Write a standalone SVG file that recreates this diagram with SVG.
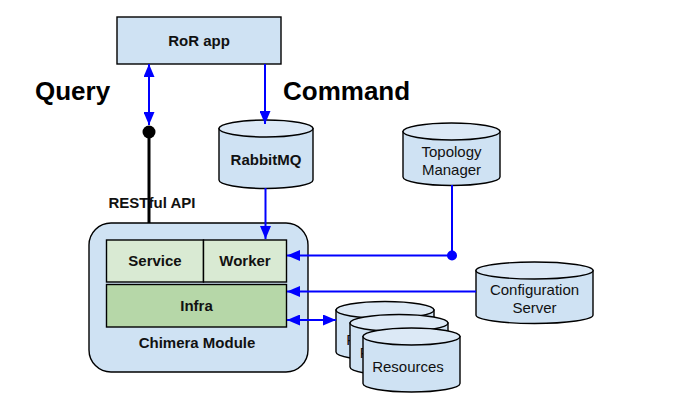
<svg xmlns="http://www.w3.org/2000/svg" width="680" height="412" viewBox="0 0 680 412">
<style>
.box{fill:#cfe2f3;stroke:#000;stroke-width:1.4}
.cyl{fill:#cfe2f3;stroke:#000;stroke-width:1.4}
.cyltop{fill:#dce9f6;stroke:#000;stroke-width:1.4}
.lt{fill:#d9ead3;stroke:#000;stroke-width:1.4}
.dk{fill:#b6d7a8;stroke:#000;stroke-width:1.4}
.b{font-family:"Liberation Sans",Arial,sans-serif;font-weight:bold;font-size:15px;fill:#111;text-anchor:middle}
.r{font-family:"Liberation Sans",Arial,sans-serif;font-size:15px;fill:#111;text-anchor:middle}
.big{font-family:"Liberation Sans",Arial,sans-serif;font-weight:bold;font-size:26px;fill:#000}
.blue{stroke:#0000ff;stroke-width:2;fill:none}
</style>
<defs>
<marker id="ah" viewBox="0 0 13 11" refX="13" refY="5.5" markerWidth="13" markerHeight="11" markerUnits="userSpaceOnUse" orient="auto-start-reverse">
<path d="M0,0 L13,5.5 L0,11 Z" fill="#0000ff"/>
</marker>
</defs>
<rect width="680" height="412" fill="#fff"/>

<text class="big" x="35" y="100">Query</text>
<text class="big" x="283" y="100">Command</text>

<g id="ror">
<rect class="box" x="117" y="17" width="164" height="47"/>
<text class="b" x="199" y="46">RoR app</text>
</g>

<g id="rabbitmq">
<path class="cyl" d="M219,128.5 L219,180 A47,8.5 0 0 0 313,180 L313,128.5 Z"/>
<ellipse class="cyltop" cx="266" cy="128.5" rx="47" ry="8.5"/>
<text class="b" x="266" y="165">RabbitMQ</text>
</g>

<g id="topology">
<path class="cyl" d="M403,131.5 L403,177 A48.5,8.5 0 0 0 500,177 L500,131.5 Z"/>
<ellipse class="cyltop" cx="451.5" cy="131.5" rx="48.5" ry="8.5"/>
<text class="r" x="451.5" y="157">Topology</text>
<text class="r" x="451.5" y="175">Manager</text>
</g>

<g id="config">
<path class="cyl" d="M476,270.5 L476,315 A58.5,8.5 0 0 0 593,315 L593,270.5 Z"/>
<ellipse class="cyltop" cx="534.5" cy="270.5" rx="58.5" ry="8.5"/>
<text class="r" x="534.5" y="295">Configuration</text>
<text class="r" x="534.5" y="313">Server</text>
</g>

<g id="chimera">
<rect class="box" x="89" y="223" width="219" height="149" rx="22"/>
<text class="b" x="197" y="348">Chimera Module</text>
</g>
<g id="service">
<rect class="lt" x="106.5" y="240" width="97" height="42"/>
<text class="b" x="155" y="266">Service</text>
</g>
<g id="worker">
<rect class="lt" x="203.5" y="240" width="83" height="42"/>
<text class="b" x="245" y="266">Worker</text>
</g>
<g id="infra">
<rect class="dk" x="106.5" y="284.5" width="180" height="42.5"/>
<text class="b" x="196.5" y="311">Infra</text>
</g>

<g id="resources">
<path class="cyl" d="M336,310 L336,352 A49,8.5 0 0 0 434,352 L434,310 Z"/>
<ellipse class="cyltop" cx="385" cy="310" rx="49" ry="8.5"/>
<text class="r" x="382" y="345">Resources</text>
<path class="cyl" d="M350,323 L350,367 A49,8.5 0 0 0 448,367 L448,323 Z"/>
<ellipse class="cyltop" cx="399" cy="323" rx="49" ry="8.5"/>
<text class="r" x="395.5" y="358">Resources</text>
<path class="cyl" d="M363,336.5 L363,383.5 A48.5,8.5 0 0 0 460,383.5 L460,336.5 Z"/>
<ellipse class="cyltop" cx="411.5" cy="336.5" rx="48.5" ry="8.5"/>
<text class="r" x="408" y="372">Resources</text>
</g>

<g id="connectors">
<line class="blue" x1="149" y1="64" x2="149" y2="125" marker-start="url(#ah)" marker-end="url(#ah)"/>
<line x1="149" y1="132" x2="149" y2="223" stroke="#000" stroke-width="3"/>
<circle cx="149" cy="132" r="6.5" fill="#000"/>
<text class="b" x="152" y="208">RESTful API</text>
<line class="blue" x1="265" y1="64" x2="265" y2="124" marker-end="url(#ah)"/>
<line class="blue" x1="265.5" y1="188" x2="265.5" y2="239" marker-end="url(#ah)"/>
<polyline class="blue" points="452,185 452,255.5 287,255.5" marker-end="url(#ah)"/>
<circle cx="452" cy="255.5" r="5" fill="#0000ff"/>
<line class="blue" x1="476" y1="291.5" x2="287" y2="291.5" marker-end="url(#ah)"/>
<line class="blue" x1="287" y1="320" x2="336" y2="320" marker-start="url(#ah)" marker-end="url(#ah)"/>
</g>
</svg>
